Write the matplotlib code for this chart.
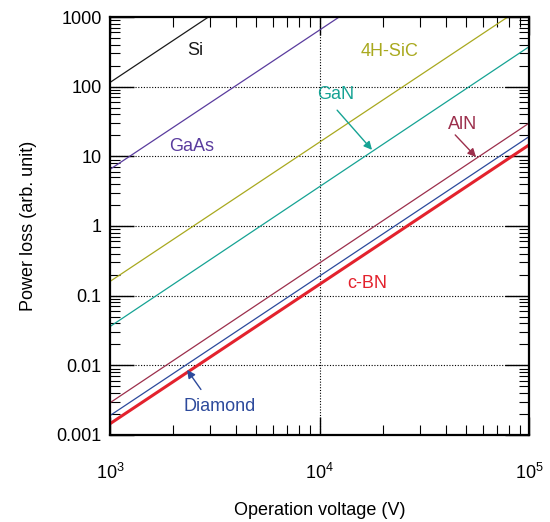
import numpy as np
from matplotlib import pyplot as plt
from matplotlib.ticker import LogLocator, NullFormatter, FixedLocator

plt.rcParams['font.family'] = ['Liberation Sans', 'DejaVu Sans']
plt.rcParams['mathtext.fontset'] = 'custom'
plt.rcParams['mathtext.rm'] = 'Liberation Sans'
plt.rcParams['mathtext.it'] = 'Liberation Sans:italic'

# Tensiones de los extremos (V)
voltajes = [1e3, 1e5]

materiales = ['Si', 'GaAs', '4H-SiC', 'GaN', 'AlN', 'Diamond', 'c-BN']
perdida_1e3 = [115, 6.5, 0.16, 0.036, 0.0029, 0.0019, 0.00145]
perdida_1e5 = [1.15e6, 6.5e4, 1600, 375, 30, 19.2, 14.6]
colores = ['#1a1a1a', '#5a3c9e', '#a9a91f', '#16a394', '#9c2f4c', '#2d4a9c', '#e3222d']
grosores = [0.9, 0.9, 0.9, 0.9, 0.9, 0.9, 2.2]

# Etiquetas de texto: (x, y) en coordenadas de datos
etiquetas_pos = {
    'Si': (2550, 330),
    'GaAs': (2450, 14),
    '4H-SiC': (21700, 320),
    'GaN': (12000, 76),
    'AlN': (48400, 29),
    'Diamond': (3350, 0.0026),
    'c-BN': (16900, 0.148),
}

# Flechas: (inicio, punta)
flechas = {
    'GaN': ((12130, 46), (17800, 12.4)),
    'AlN': ((44400, 20.3), (55800, 9.8)),
    'Diamond': ((2716, 0.0045), (2333, 0.0086)),
}

fig = plt.figure(figsize=(5.5, 5.22), dpi=100)
ax = fig.add_axes([0.2, 0.1667, 0.762, 0.8007])

# Grid punteado
for yv in [0.01, 0.1, 1, 10, 100]:
    ax.axhline(yv, color='black', lw=0.8, ls=(0, (1, 1.5)), zorder=1)
ax.axvline(1e4, color='black', lw=0.8, ls=(0, (1, 1.5)), zorder=1)

for i in range(len(materiales)):
    ax.plot(voltajes, [perdida_1e3[i], perdida_1e5[i]], color=colores[i],
            lw=grosores[i], zorder=3)
    tx, ty = etiquetas_pos[materiales[i]]
    ax.text(tx, ty, materiales[i], color=colores[i], fontsize=13,
            ha='center', va='center', zorder=4)

for nombre, (ini, fin) in flechas.items():
    c = colores[materiales.index(nombre)]
    ax.annotate('', xy=fin, xytext=ini,
                arrowprops=dict(arrowstyle='-|>', color=c, lw=1.0,
                                mutation_scale=12, shrinkA=0, shrinkB=0))

ax.set_xscale('log')
ax.set_yscale('log')
ax.set_xlim(1e3, 1e5)
ax.set_ylim(1e-3, 1e3)

ax.xaxis.set_major_locator(FixedLocator([1e3, 1e4, 1e5]))
ax.set_xticklabels([r'$10^{3}$', r'$10^{4}$', r'$10^{5}$'])
ax.xaxis.set_minor_locator(LogLocator(base=10, subs=np.arange(2, 10)))
ax.xaxis.set_minor_formatter(NullFormatter())

ax.yaxis.set_major_locator(FixedLocator([1e-3, 1e-2, 1e-1, 1, 10, 100, 1000]))
ax.set_yticklabels(['0.001', '0.01', '0.1', '1', '10', '100', '1000'])
ax.yaxis.set_minor_locator(LogLocator(base=10, subs=np.arange(2, 10)))
ax.yaxis.set_minor_formatter(NullFormatter())

ax.tick_params(axis='both', which='both', direction='in', top=True, right=True,
               labelsize=13, colors='black')
ax.tick_params(axis='y', which='major', length=17, width=1.0, pad=6)
ax.tick_params(axis='y', which='minor', length=7, width=0.8)
ax.tick_params(axis='x', which='major', length=13, width=1.0, pad=20)
ax.tick_params(axis='x', which='minor', length=7, width=0.8)

for s in ax.spines.values():
    s.set_linewidth(1.6)
    s.set_zorder(5)

ax.set_xlabel('Operation voltage (V)', fontsize=13, labelpad=14)
ax.set_ylabel('Power loss (arb. unit)', fontsize=13, labelpad=14)

fig.savefig('out.png', dpi=100)
